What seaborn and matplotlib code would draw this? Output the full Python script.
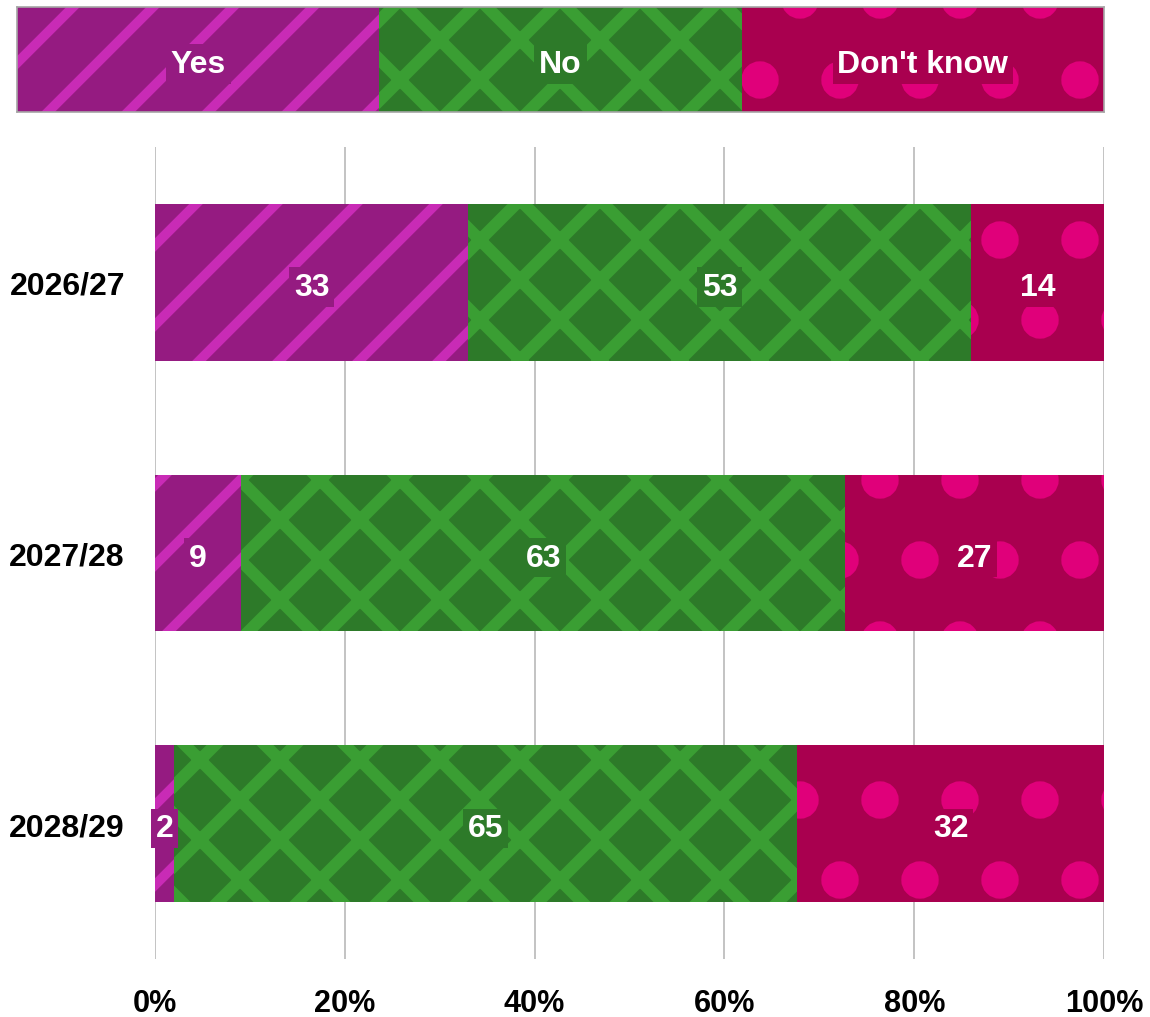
import numpy as np
import pandas as pd
import matplotlib
matplotlib.use('Agg')
import matplotlib.pyplot as plt
import seaborn as sns

# ---- data ----
years = ['2026/27', '2027/28', '2028/29']
yes = [33, 9, 2]
no = [53, 63, 65]
dont_know = [14, 27, 32]
series_names = ['Yes', 'No', "Don't know"]
xtick_values = [0, 20, 40, 60, 80, 100]

# ---- styles ----
base_colors = ['#951B81', '#2D7A29', '#A9004F']
pattern_colors = ['#C92BB6', '#3A9E33', '#E0007A']
hatches = ['//', 'xx', '.']
hatch_lws = [1.45, 1.8, 3.2]

DPI = 480
sns.set_theme(style='white')
plt.rcParams['font.family'] = ['Liberation Sans', 'DejaVu Sans']
plt.rcParams['font.weight'] = 'bold'

fig = plt.figure(figsize=(1150 / DPI, 1018 / DPI), dpi=DPI)
ax = fig.add_axes([155 / 1150, 1 - 960 / 1018, 949 / 1150, 812 / 1018])
leg = fig.add_axes([17 / 1150, 1 - 113 / 1018, 1087 / 1150, 105 / 1018])

df = pd.DataFrame({'year': years, 'Yes': yes, 'No': no, "Don't know": dont_know})
totals = df[series_names].sum(axis=1)
pct = df[series_names].div(totals, axis=0) * 100
cum = pct.cumsum(axis=1)


def style_patches(patches, i):
    for p in patches:
        p.set_facecolor(base_colors[i])
        p.set_edgecolor(pattern_colors[i])
        p.set_linewidth(0)
        p.set_hatch(hatches[i])
        if hasattr(p, 'set_hatch_linewidth'):
            p.set_hatch_linewidth(hatch_lws[i])


for i in reversed(range(3)):
    n_before = len(ax.patches)
    with plt.rc_context({'hatch.linewidth': hatch_lws[i]}):
        sns.barplot(x=cum[series_names[i]].values, y=df['year'], orient='h',
                    color=base_colors[i], saturation=1, width=0.58, ax=ax)
        style_patches(ax.patches[n_before:], i)

for r in range(len(years)):
    left = 0
    for i, name in enumerate(series_names):
        w = pct.loc[r, name]
        ax.annotate(str(df.loc[r, name]), xy=(left + w / 2, r), xytext=(0, -0.7),
                    textcoords='offset points', ha='center', va='center',
                    color='white', fontsize=4.8, fontweight='bold',
                    bbox=dict(boxstyle='square,pad=0.15', fc=base_colors[i], ec='none'),
                    zorder=5)
        left += w

ax.set_xlim(0, 100)
ax.set_ylim(2.5, -0.5)
ax.set_xticks(xtick_values)
ax.set_xticklabels([f'{v}%' for v in xtick_values])
ax.set_xlabel('')
ax.set_ylabel('')
ax.grid(axis='x', color='#C4C4C4', lw=0.3)
ax.grid(axis='y', visible=False)
ax.set_axisbelow(True)
for s in ax.spines.values():
    s.set_visible(False)
ax.tick_params(axis='x', length=0, pad=4.3, labelsize=4.6, colors='black')
ax.tick_params(axis='y', length=0, pad=4.5, labelsize=4.8, colors='black')
for lab in ax.get_xticklabels() + ax.get_yticklabels():
    lab.set_fontweight('bold')

# ---- legend bar ----
leg_left = 0
for i, name in enumerate(series_names):
    with plt.rc_context({'hatch.linewidth': hatch_lws[i]}):
        bars = leg.barh([0], [1 / 3], left=leg_left, height=1)
        style_patches(bars.patches, i)
    leg.annotate(name, xy=(leg_left + 1 / 6, 0), xytext=(0, -0.7),
                 textcoords='offset points', ha='center', va='center', color='white',
                 fontsize=4.8, fontweight='bold',
                 bbox=dict(boxstyle='square,pad=0.15', fc=base_colors[i], ec='none'))
    leg_left += 1 / 3
leg.set_xlim(0, 1)
leg.set_ylim(-0.5, 0.5)
leg.set_xticks([])
leg.set_yticks([])
for s in leg.spines.values():
    s.set_visible(True)
    s.set_color('#A6A6A6')
    s.set_linewidth(0.25)

fig.savefig('out.png', dpi=DPI)
